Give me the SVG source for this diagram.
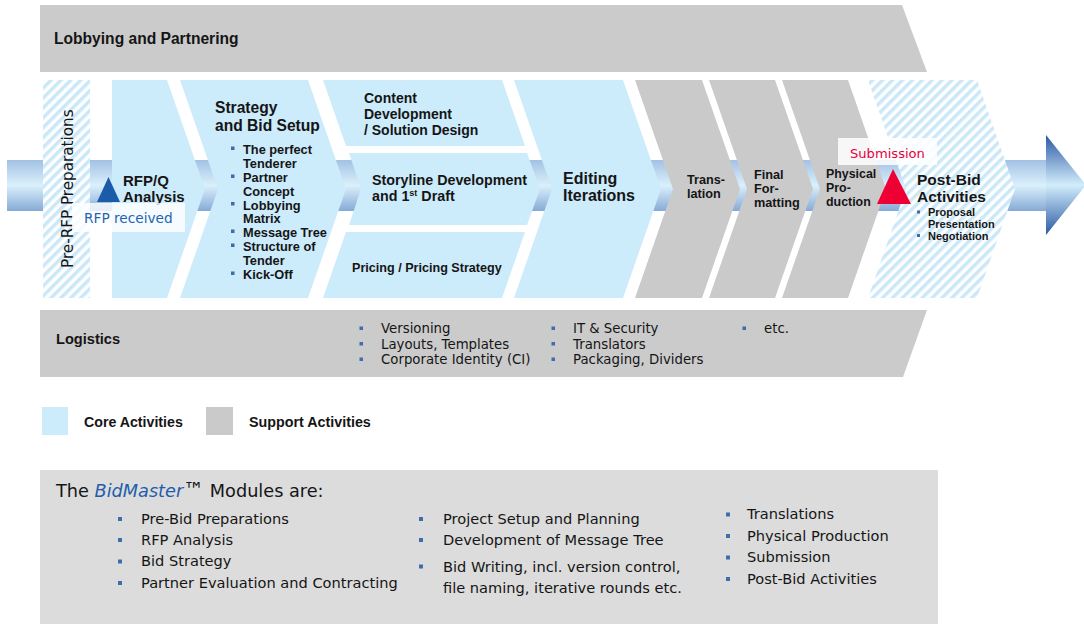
<svg xmlns="http://www.w3.org/2000/svg" width="1084" height="624" viewBox="0 0 1084 624">
<defs>
<linearGradient id="shaft" x1="0" y1="0" x2="0" y2="1">
<stop offset="0" stop-color="#A3C1E4"/>
<stop offset="0.5" stop-color="#DAF0FB"/>
<stop offset="1" stop-color="#86AAD6"/>
</linearGradient>
<linearGradient id="head" x1="0" y1="0" x2="0" y2="1">
<stop offset="0" stop-color="#2A58A4"/>
<stop offset="0.5" stop-color="#D2EDFB"/>
<stop offset="1" stop-color="#2A58A4"/>
</linearGradient>
<pattern id="hatch" patternUnits="userSpaceOnUse" width="7" height="7" patternTransform="rotate(45)">
<rect width="7" height="7" fill="#ffffff"/>
<rect width="3.5" height="7" fill="#CBE8F9"/>
</pattern>
</defs>
<style>
.core{fill:#CCEBFB}
.sup{fill:#CACACA}
.band{fill:#CBCBCB}
.r{font-family:'DejaVu Sans',Verdana,sans-serif;fill:#151515}
.b{font-family:'Liberation Sans',Arial,sans-serif;font-weight:bold;fill:#151515}
.bul{fill:#3E6DA8}
</style>

<g id="connectors">
<rect x="7" y="160" width="1041" height="51" fill="url(#shaft)"/>
<polygon points="1046,135 1086,185 1046,235" fill="url(#head)"/>
</g>

<g id="lobbying">
<polygon class="band" points="40,5 902,5 927,72 40,72"/>
<text class="b" x="54" y="44" font-size="15.6">Lobbying and Partnering</text>
</g>

<g id="logistics">
<polygon class="band" points="40,310 927,310 903,377 40,377"/>
<text class="b" x="56" y="344" font-size="14.6">Logistics</text>
<rect class="bul" x="359.5" y="326.5" width="3.5" height="3.5"/>
<rect class="bul" x="359.5" y="342" width="3.5" height="3.5"/>
<rect class="bul" x="359.5" y="357.5" width="3.5" height="3.5"/>
<text class="r" x="381" y="333" font-size="13.3">Versioning</text>
<text class="r" x="381" y="348.5" font-size="13.3">Layouts, Templates</text>
<text class="r" x="381" y="364" font-size="13.3">Corporate Identity (CI)</text>
<rect class="bul" x="551.5" y="326.5" width="3.5" height="3.5"/>
<rect class="bul" x="551.5" y="342" width="3.5" height="3.5"/>
<rect class="bul" x="551.5" y="357.5" width="3.5" height="3.5"/>
<text class="r" x="573" y="333" font-size="13.3">IT &amp; Security</text>
<text class="r" x="573" y="348.5" font-size="13.3">Translators</text>
<text class="r" x="573" y="364" font-size="13.3">Packaging, Dividers</text>
<rect class="bul" x="742.5" y="326.5" width="3.5" height="3.5"/>
<text class="r" x="764" y="333" font-size="13.3">etc.</text>
</g>

<g id="pre-rfp">
<rect x="43" y="80" width="47" height="218" fill="url(#hatch)"/>
<text class="r" transform="translate(73,268) rotate(-90)" font-size="15.2">Pre-RFP Preparations</text>
</g>

<g id="rfpq">
<polygon class="core" points="112,80 167,80 205,189 167,298 112,298"/>
<text class="b" x="123" y="186" font-size="15">RFP/Q</text>
<text class="b" x="123" y="202" font-size="15">Analysis</text>
</g>

<g id="strategy">
<polygon class="core" points="180,80 308,80 346,189 308,298 180,298 218,189"/>
<text class="b" x="215" y="113" font-size="15.6">Strategy</text>
<text class="b" x="215" y="131" font-size="15.6">and Bid Setup</text>
<rect class="bul" x="231" y="146.5" width="3.5" height="3.5"/>
<rect class="bul" x="231" y="174.5" width="3.5" height="3.5"/>
<rect class="bul" x="231" y="202" width="3.5" height="3.5"/>
<rect class="bul" x="231" y="229.5" width="3.5" height="3.5"/>
<rect class="bul" x="231" y="243.5" width="3.5" height="3.5"/>
<rect class="bul" x="231" y="271.5" width="3.5" height="3.5"/>
<text class="b" x="243" y="154" font-size="12.8">The perfect</text>
<text class="b" x="243" y="168" font-size="12.8">Tenderer</text>
<text class="b" x="243" y="182" font-size="12.8">Partner</text>
<text class="b" x="243" y="196" font-size="12.8">Concept</text>
<text class="b" x="243" y="209.5" font-size="12.8">Lobbying</text>
<text class="b" x="243" y="223" font-size="12.8">Matrix</text>
<text class="b" x="243" y="237" font-size="12.8">Message Tree</text>
<text class="b" x="243" y="251" font-size="12.8">Structure of</text>
<text class="b" x="243" y="265" font-size="12.8">Tender</text>
<text class="b" x="243" y="279" font-size="12.8">Kick-Off</text>
</g>

<g id="content">
<polygon class="core" points="323,80 502,80 525,146 346,146"/>
<text class="b" x="364" y="103" font-size="14">Content</text>
<text class="b" x="364" y="119" font-size="14">Development</text>
<text class="b" x="364" y="135" font-size="14">/ Solution Design</text>
</g>

<g id="storyline">
<polygon class="core" points="349,153 527,153 540,189 527,225 349,225 361,189"/>
<text class="b" x="372" y="185" font-size="14.3">Storyline Development</text>
<text class="b" x="372" y="201" font-size="14.3">and 1<tspan font-size="9" dy="-5">st</tspan><tspan dy="5"> Draft</tspan></text>
</g>

<g id="pricing">
<polygon class="core" points="346,232 525,232 502,298 323,298"/>
<text class="b" x="352" y="272" font-size="12.6">Pricing / Pricing Strategy</text>
</g>

<g id="editing">
<polygon class="core" points="514,80 623,80 661,189 623,298 514,298 552,189"/>
<text class="b" x="563" y="184" font-size="16">Editing</text>
<text class="b" x="563" y="201" font-size="16">Iterations</text>
</g>

<g id="translation">
<polygon class="sup" points="635,80 702,80 740,189 702,298 635,298 673,189"/>
<text class="b" x="687" y="184" font-size="12.7">Trans-</text>
<text class="b" x="687" y="198" font-size="12.7">lation</text>
</g>

<g id="formatting">
<polygon class="sup" points="709,80 775,80 813,189 775,298 709,298 747,189"/>
<text class="b" x="754" y="179" font-size="12.7">Final</text>
<text class="b" x="754" y="193" font-size="12.7">For-</text>
<text class="b" x="754" y="207" font-size="12.7">matting</text>
</g>

<g id="production">
<polygon class="sup" points="782,80 848,80 886,189 848,298 782,298 820,189"/>
<text class="b" x="826" y="178" font-size="12.4">Physical</text>
<text class="b" x="826" y="192" font-size="12.4">Pro-</text>
<text class="b" x="826" y="206" font-size="12.4">duction</text>
</g>

<g id="post-bid">
<polygon points="868,80 977,80 1015,189 977,298 868,298 906,189" fill="url(#hatch)"/>
<text class="b" x="917" y="185" font-size="15.5">Post-Bid</text>
<text class="b" x="917" y="202" font-size="15.5">Activities</text>
<rect class="bul" x="917" y="210.5" width="3" height="3"/>
<rect class="bul" x="917" y="234" width="3" height="3"/>
<text class="b" x="928" y="216" font-size="11">Proposal</text>
<text class="b" x="928" y="228" font-size="11">Presentation</text>
<text class="b" x="928" y="239.5" font-size="11">Negotiation</text>
</g>

<g id="rfp-received">
<rect x="72" y="203" width="113" height="29" fill="#ffffff" fill-opacity="0.8"/>
<polygon points="97,202 120,202 108.5,177" fill="#1A5BAA"/>
<text class="r" x="84" y="223" font-size="13.7" style="fill:#1F64B4">RFP received</text>
</g>

<g id="submission">
<rect x="838" y="138" width="99" height="27" fill="#ffffff" fill-opacity="0.85"/>
<polygon points="877,204 911,204 893,169" fill="#EE0035"/>
<text class="r" x="850" y="158" font-size="13.1" style="fill:#E8003D">Submission</text>
</g>

<g id="legend">
<rect x="42" y="407" width="26" height="28" class="core"/>
<text class="b" x="84" y="426.5" font-size="14.2">Core Activities</text>
<rect x="206" y="407" width="27" height="28" class="sup"/>
<text class="b" x="249" y="426.5" font-size="14.3">Support Activities</text>
</g>

<g id="modules">
<rect x="40" y="470" width="898" height="154" fill="#DCDCDC"/>
<text class="r" x="56" y="497" font-size="17.7">The <tspan font-style="italic" style="fill:#1F5DAB">BidMaster</tspan><tspan font-style="italic" font-size="21">™</tspan> Modules are:</text>
<rect class="bul" x="118" y="517" width="4" height="4"/>
<rect class="bul" x="118" y="538" width="4" height="4"/>
<rect class="bul" x="118" y="559.5" width="4" height="4"/>
<rect class="bul" x="118" y="581" width="4" height="4"/>
<text class="r" x="141" y="523.5" font-size="14.6">Pre-Bid Preparations</text>
<text class="r" x="141" y="544.5" font-size="14.6">RFP Analysis</text>
<text class="r" x="141" y="566" font-size="14.6">Bid Strategy</text>
<text class="r" x="141" y="587.5" font-size="14.6">Partner Evaluation and Contracting</text>
<rect class="bul" x="419" y="517" width="4" height="4"/>
<rect class="bul" x="419" y="538" width="4" height="4"/>
<rect class="bul" x="419" y="564.5" width="4" height="4"/>
<text class="r" x="443" y="524" font-size="14.6">Project Setup and Planning</text>
<text class="r" x="443" y="545" font-size="14.6">Development of Message Tree</text>
<text class="r" x="443" y="571.5" font-size="14.6">Bid Writing, incl. version control,</text>
<text class="r" x="443" y="592.5" font-size="14.6">file naming, iterative rounds etc.</text>
<rect class="bul" x="726" y="512.5" width="4" height="4"/>
<rect class="bul" x="726" y="534" width="4" height="4"/>
<rect class="bul" x="726" y="555.5" width="4" height="4"/>
<rect class="bul" x="726" y="577" width="4" height="4"/>
<text class="r" x="747" y="519" font-size="14.6">Translations</text>
<text class="r" x="747" y="540.5" font-size="14.6">Physical Production</text>
<text class="r" x="747" y="562" font-size="14.6">Submission</text>
<text class="r" x="747" y="583.5" font-size="14.6">Post-Bid Activities</text>
</g>
</svg>
